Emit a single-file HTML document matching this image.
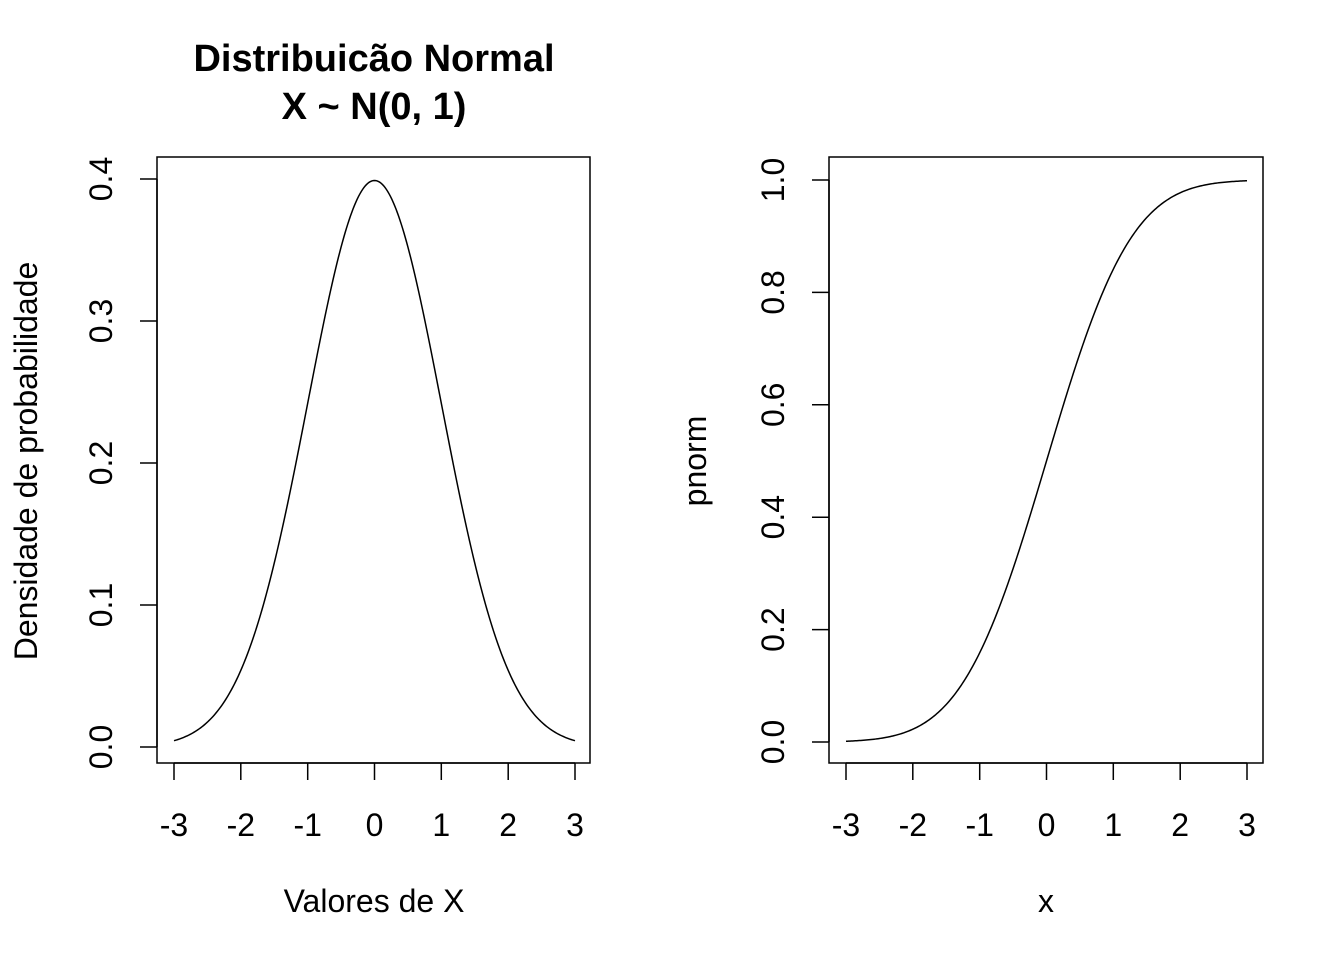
<!DOCTYPE html>
<html><head><meta charset="utf-8"><style>
html,body{margin:0;padding:0;background:#fff;}
svg{display:block;font-family:"Liberation Sans",Arial,sans-serif;}
</style></head><body>
<svg id="s" width="1344" height="960" viewBox="0 0 1344 960" xmlns="http://www.w3.org/2000/svg">
<rect width="1344" height="960" fill="#fff"/>
<g fill="none" stroke="#000" stroke-width="1.5">
<rect x="157" y="157" width="433" height="606"/>
<rect x="829" y="157" width="434" height="606"/>
<path d="M174 763V780M240.8 763V780M307.7 763V780M374.5 763V780M441.3 763V780M508.2 763V780M575 763V780M174 763H575"/>
<path d="M157 747H140M157 605H140M157 463H140M157 321H140M157 179H140M157 179V747"/>
<path d="M846 763V780M912.8 763V780M979.7 763V780M1046.5 763V780M1113.3 763V780M1180.2 763V780M1247 763V780M846 763H1247"/>
<path d="M829 742H812M829 629.6H812M829 517.2H812M829 404.8H812M829 292.4H812M829 180H812M829 180V742"/>
<path id="c1"/><path id="c2"/>
</g>
<g font-size="32" text-anchor="middle" fill="#000">
<text x="174" y="836">-3</text><text x="240.8" y="836">-2</text><text x="307.7" y="836">-1</text><text x="374.5" y="836">0</text><text x="441.3" y="836">1</text><text x="508.2" y="836">2</text><text x="575" y="836">3</text>
<text x="846" y="836">-3</text><text x="912.8" y="836">-2</text><text x="979.7" y="836">-1</text><text x="1046.5" y="836">0</text><text x="1113.3" y="836">1</text><text x="1180.2" y="836">2</text><text x="1247" y="836">3</text>
<text transform="translate(112,747) rotate(-90)">0.0</text>
<text transform="translate(112,605) rotate(-90)">0.1</text>
<text transform="translate(112,463) rotate(-90)">0.2</text>
<text transform="translate(112,321) rotate(-90)">0.3</text>
<text transform="translate(112,179) rotate(-90)">0.4</text>
<text transform="translate(784,742) rotate(-90)">0.0</text>
<text transform="translate(784,629.6) rotate(-90)">0.2</text>
<text transform="translate(784,517.2) rotate(-90)">0.4</text>
<text transform="translate(784,404.8) rotate(-90)">0.6</text>
<text transform="translate(784,292.4) rotate(-90)">0.8</text>
<text transform="translate(784,180) rotate(-90)">1.0</text>
<text x="374" y="912">Valores de X</text>
<text x="1046" y="912">x</text>
<text transform="translate(37,461) rotate(-90)">Densidade de probabilidade</text>
<text transform="translate(706,461) rotate(-90)">pnorm</text>
<text x="374" y="71" font-weight="bold" font-size="38">Distribuicão Normal</text>
<text x="374" y="119" font-weight="bold" font-size="38">X ~ N(0, 1)</text>
</g>
<script>
(function(){
function erf(x){var s=x<0?-1:1;x=Math.abs(x);var t=1/(1+0.3275911*x);
var y=1-(((((1.061405429*t-1.453152027)*t)+1.421413741)*t-0.284496736)*t+0.254829592)*t*Math.exp(-x*x);return s*y;}
var a="",b="";
for(var i=0;i<=300;i++){var x=-3+6*i/300;
var d=Math.exp(-x*x/2)/Math.sqrt(2*Math.PI);var p=0.5*(1+erf(x/Math.SQRT2));
a+=(i?"L":"M")+(374.5+x*66.833).toFixed(2)+" "+(747-d*1420).toFixed(2);
b+=(i?"L":"M")+(1046.5+x*66.833).toFixed(2)+" "+(742-p*562).toFixed(2);}
document.getElementById("c1").setAttribute("d",a);
document.getElementById("c2").setAttribute("d",b);
})();
</script>
</svg>
</body></html>
